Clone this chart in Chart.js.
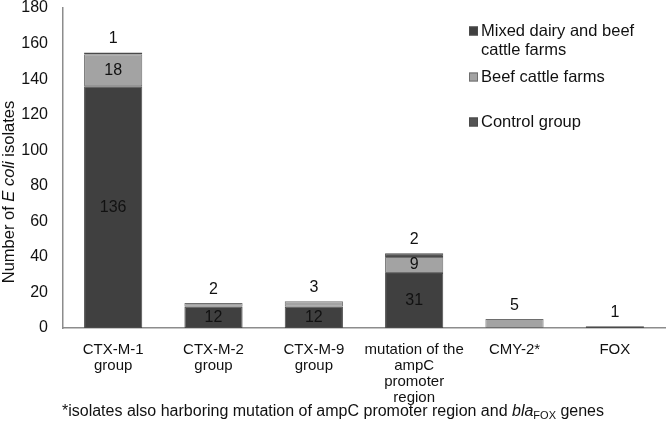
<!DOCTYPE html>
<html><head><meta charset="utf-8">
<script src="https://cdn.jsdelivr.net/npm/chart.js@4"></script>
<style>html,body{margin:0;padding:0;background:#fff}#wrap{width:666px;height:431px;position:relative}</style>
</head><body><div id="wrap"><canvas id="c" width="666" height="431"></canvas></div>
<script>
const categories = [["CTX-M-1","group"],["CTX-M-2","group"],["CTX-M-9","group"],["mutation of the","ampC","promoter","region"],["CMY-2*"],["FOX"]];
const seriesNames = [["Mixed dairy and beef","cattle farms"],["Beef cattle farms"],["Control group"]];
const mixedDairyBeef = [136,12,12,31,null,null];
const beefCattle = [18,2,3,9,5,null];
const controlGroup = [1,null,null,2,null,1];
const yTickValues = [0,20,40,60,80,100,120,140,160,180];

const FONT = "'Liberation Sans', Arial, sans-serif";
const fills = ['#404040','#a3a3a3','#545454'];
const borders = ['#4a4a4a','#6e6e6e','#4a4a4a'];

const labelPlugin = {
  id:'labels',
  afterDatasetsDraw(chart){
    const ctx = chart.ctx;
    ctx.save();
    ctx.font = '16px ' + FONT;
    ctx.fillStyle = '#111';
    ctx.textAlign = 'center';
    ctx.textBaseline = 'middle';
    const n = chart.data.labels.length;
    for(let i=0;i<n;i++){
      let top = -1;
      chart.data.datasets.forEach((ds,d)=>{ if(ds.data[i]!=null) top = d; });
      chart.data.datasets.forEach((ds,d)=>{
        const v = ds.data[i];
        if(v==null) return;
        const el = chart.getDatasetMeta(d).data[i];
        if(d===top){
          ctx.fillText(String(v), el.x, el.y - 14);
        } else {
          ctx.fillText(String(v), el.x, (el.y + el.base)/2);
        }
      });
    }
    // legend
    ctx.font = '16.5px ' + FONT;
    const lx = 469, ys = [[31,50],[77],[122]];
    seriesNames.forEach((lines,k)=>{
      ctx.fillStyle = fills[k];
      ctx.fillRect(lx, ys[k][0]-4.5, 9, 9);
      ctx.strokeStyle = borders[k];
      ctx.lineWidth = 1;
      ctx.strokeRect(lx+0.5, ys[k][0]-4, 8, 8);
      ctx.fillStyle = '#111';
      ctx.textAlign = 'left';
      lines.forEach((t,j)=>ctx.fillText(t, 481, ys[k][j]));
    });
    // y title
    ctx.save();
    ctx.translate(9, 192);
    ctx.rotate(-Math.PI/2);
    const parts = [['Number of ', '16.5px '+FONT],['E coli','italic 16.5px '+FONT],[' isolates','16.5px '+FONT]];
    let w = 0;
    parts.forEach(p=>{ctx.font=p[1]; w += ctx.measureText(p[0]).width;});
    let x = -w/2;
    ctx.textAlign='left';
    parts.forEach(p=>{ctx.font=p[1]; ctx.fillText(p[0], x, 0); x += ctx.measureText(p[0]).width;});
    ctx.restore();
    // footnote
    const fparts = [['*isolates also harboring mutation of ampC promoter region and ','16px '+FONT,0],['bla','italic 16px '+FONT,0],['FOX','11px '+FONT,4],[' genes','16px '+FONT,0]];
    let fw = 0;
    fparts.forEach(p=>{ctx.font=p[1]; fw += ctx.measureText(p[0]).width;});
    let fx = 333 - fw/2;
    ctx.textAlign='left';
    fparts.forEach(p=>{ctx.font=p[1]; ctx.fillText(p[0], fx, 412 + p[2]); fx += ctx.measureText(p[0]).width;});
    ctx.restore();
  }
};

new Chart(document.getElementById('c'), {
  type:'bar',
  data:{
    labels: categories,
    datasets:[
      {label:seriesNames[0].join(' '), data:mixedDairyBeef, backgroundColor:fills[0], borderColor:borders[0], borderWidth:1, borderSkipped:false},
      {label:seriesNames[1].join(' '), data:beefCattle, backgroundColor:fills[1], borderColor:borders[1], borderWidth:1, borderSkipped:false},
      {label:seriesNames[2].join(' '), data:controlGroup, backgroundColor:fills[2], borderColor:borders[2], borderWidth:1, borderSkipped:false}
    ]
  },
  options:{
    responsive:false,
    devicePixelRatio:1,
    animation:false,
    barPercentage:0.58,
    categoryPercentage:1,
    layout:{padding:{top:8,right:1,left:0,bottom:0}},
    plugins:{legend:{display:false},tooltip:{enabled:false}},
    scales:{
      x:{
        stacked:true,
        grid:{display:false},
        border:{display:true,color:'#8c8c8c',width:1.5},
        ticks:{font:{family:FONT,size:15,lineHeight:1.07},color:'#111',padding:6,maxRotation:0,autoSkip:false},
        afterFit(s){ s.height = 103; s.paddingLeft = 0; s.paddingRight = 0; }
      },
      y:{
        stacked:true,
        min:0,max:180,
        grid:{display:false},
        border:{display:true,color:'#8c8c8c',width:1.5},
        afterBuildTicks(s){ s.ticks = yTickValues.map(v=>({value:v})); },
        ticks:{font:{family:FONT,size:16},color:'#111',padding:7},
        afterFit(s){ s.width = 63; s.paddingTop = 0; s.paddingBottom = 0; }
      }
    }
  },
  plugins:[labelPlugin]
});
</script></body></html>
